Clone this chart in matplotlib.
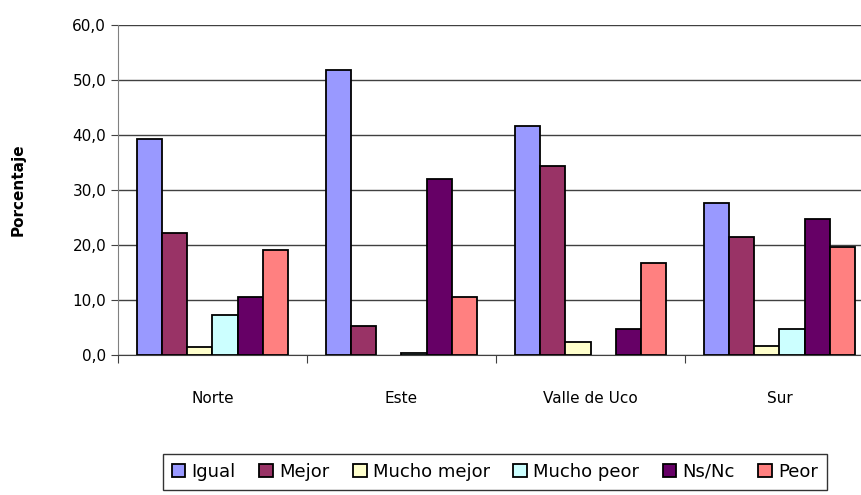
import numpy as np
import matplotlib
matplotlib.use('Agg')
import matplotlib.pyplot as plt

regiones = ['Norte', 'Este', 'Valle de Uco', 'Sur']
series = ['Igual', 'Mejor', 'Mucho mejor', 'Mucho peor', 'Ns/Nc', 'Peor']
igual = [39.2, 51.8, 41.6, 27.7]
mejor = [22.2, 5.2, 34.4, 21.5]
mucho_mejor = [1.4, 0.0, 2.3, 1.7]
mucho_peor = [7.3, 0.3, 0.0, 4.7]
nsnc = [10.6, 32.0, 4.7, 24.8]
peor = [19.1, 10.6, 16.8, 19.7]
colores = ['#9999FF', '#993366', '#FFFFCC', '#CCFFFF', '#660066', '#FF8080']

valores = [igual, mejor, mucho_mejor, mucho_peor, nsnc, peor]

fig = plt.figure(figsize=(8.62, 4.95), dpi=100)
# axes spans slightly past the right edge, like the cropped original
ax = fig.add_axes([118 / 862, 1 - 355 / 495, 756 / 862, 330 / 495])

x = np.arange(len(regiones))
ancho = 0.8 / len(series)
for i, (nombre, vals) in enumerate(zip(series, valores)):
    pos = x - 0.4 + ancho * (i + 0.5)
    lw = [1.3 if v > 0 else 0 for v in vals]
    ax.bar(pos, vals, ancho, color=colores[i], edgecolor='black',
           linewidth=lw, label=nombre, zorder=3)

ax.set_xlim(-0.5, len(regiones) - 0.5)
ax.set_ylim(0, 60)
ax.set_yticks(np.arange(0, 61, 10))
ax.set_yticklabels([f'{v:.1f}'.replace('.', ',') for v in np.arange(0, 61, 10)],
                   fontsize=11)
ax.yaxis.grid(True, color='#404040', linewidth=1, zorder=0)
ax.set_axisbelow(True)

ax.set_xticks(np.arange(-0.5, len(regiones)), minor=False)
ax.set_xticklabels([])
ax.set_xticks(x, minor=True)
ax.set_xticklabels(regiones, minor=True, fontsize=11)
ax.tick_params(axis='x', which='major', length=6, color='#404040')
ax.tick_params(axis='x', which='minor', length=0, pad=26)
ax.tick_params(axis='y', length=5, color='#404040')

for s in ['top', 'right']:
    ax.spines[s].set_visible(False)
ax.spines['left'].set_color('#808080')
ax.spines['bottom'].set_color('#404040')

fig.text(18 / 862, 1 - 190 / 495, 'Porcentaje', rotation=90, fontsize=11,
         fontweight='bold', ha='center', va='center')

leg = fig.legend(loc='center', bbox_to_anchor=(495 / 862, 1 - 472 / 495),
                 ncol=6, fontsize=13, frameon=True, fancybox=False,
                 handlelength=0.75, handleheight=0.75, handletextpad=0.35,
                 columnspacing=1.3, borderpad=0.5)
leg.get_frame().set_edgecolor('black')
leg.get_frame().set_linewidth(1)

fig.savefig('out.png', dpi=100)
